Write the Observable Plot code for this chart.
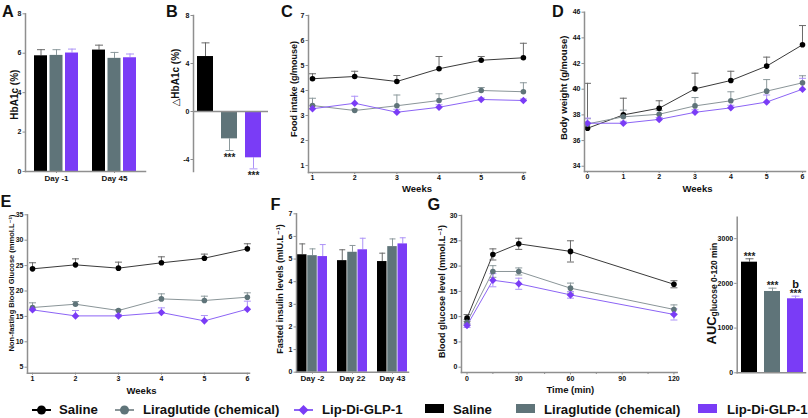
<!DOCTYPE html>
<html><head><meta charset="utf-8">
<script src="https://cdn.jsdelivr.net/npm/d3@7"></script>
<script src="https://cdn.jsdelivr.net/npm/@observablehq/plot@0.6"></script>
<style>
html,body{margin:0;padding:0;background:#fff;}
#fig{position:relative;width:808px;height:418px;overflow:hidden;background:#fff;font-family:"Liberation Sans",Arial,"DejaVu Sans",sans-serif;font-weight:bold;color:#111;}
.lbl{position:absolute;font-size:16.3px;line-height:16.3px;}
.leg{position:absolute;font-size:13.2px;line-height:13.2px;white-space:nowrap;}
.sym{position:absolute;}
</style></head><body><div id="fig"></div>
<script>
// ---------- data ----------
const series = ["Saline", "Liraglutide (chemical)", "Lip-Di-GLP-1"];
const colors = ["#000000", "#5f7479", "#7a3cf6"];
const lineColors = ["#3a3a3a", "#8a9598", "#8c64f5"];
const errColors = ["#6a6a6a", "#8c999c", "#ad93f7"];

// A: HbA1c
const hbaDays = ["Day -1", "Day 45"];
const hbaSaline = [5.87, 6.16], hbaSalineErr = [0.31, 0.25];
const hbaLira = [5.89, 5.74], hbaLiraErr = [0.29, 0.30];
const hbaLip = [6.01, 5.77], hbaLipErr = [0.20, 0.19];
const hbaTicks = [0, 2, 4, 6, 8];

// B: delta HbA1c
const dHba = [4.58, -2.28, -3.86];
const dHbaErr = [1.14, 0.97, 0.92];
const dHbaMarks = ["", "***", "***"];
const dHbaTicks = [-4, 0, 4, 8];

// C: food intake
const weeksC = [1, 2, 3, 4, 5, 6];
const foodSaline = [4.47, 4.56, 4.36, 4.87, 5.21, 5.31], foodSalineErr = [0.20, 0.21, 0.24, 0.49, 0.15, 0.58];
const foodLira = [3.40, 3.20, 3.39, 3.60, 4.00, 3.95], foodLiraErr = [0.29, 0.05, 0.43, 0.27, 0.12, 0.36];
const foodLip = [3.27, 3.49, 3.13, 3.33, 3.64, 3.60], foodLipErr = [0.12, 0.28, 0.12, 0.10, 0.06, 0.06];
const foodTicks = [1, 2, 3, 4, 5, 6, 7];

// D: body weight
const weeksD = [0, 1, 2, 3, 4, 5, 6];
const bwSaline = [36.96, 38.0, 38.52, 40.03, 40.68, 41.8, 43.46], bwSalineErr = [3.5, 1.3, 0.58, 1.22, 0.72, 0.7, 1.5];
const bwLira = [37.3, 37.85, 38.05, 38.7, 39.1, 39.85, 40.5], bwLiraErr = [0.4, 0.52, 0.3, 0.65, 0.7, 0.9, 0.55];
const bwLip = [37.35, 37.35, 37.65, 38.2, 38.55, 39.0, 40.0], bwLipErr = [0.4, 0.15, 0.15, 0.2, 0.2, 0.55, 0.85];
const bwTicks = [34, 36, 38, 40, 42, 44, 46];

// E: non-fasting blood glucose
const weeksE = [1, 2, 3, 4, 5, 6];
const glucSaline = [24.36, 25.15, 24.5, 25.55, 26.46, 28.3], glucSalineErr = [1.2, 1.18, 1.18, 1.18, 0.8, 1.0];
const glucLira = [16.75, 17.4, 16.16, 18.45, 18.13, 18.78], glucLiraErr = [0.92, 0.53, 0.2, 0.99, 0.85, 0.86];
const glucLip = [16.29, 15.1, 15.1, 15.76, 14.12, 16.42], glucLipErr = [0.3, 1.06, 0.3, 0.92, 1.05, 1.58];
const glucTicks = [5, 10, 15, 20, 25, 30, 35];

// F: fasted insulin
const insDays = ["Day -2", "Day 22", "Day 43"];
const insSaline = [5.19, 4.93, 4.89], insSalineErr = [0.48, 0.48, 0.37];
const insLira = [5.15, 5.30, 5.55], insLiraErr = [0.30, 0.30, 0.34];
const insLip = [5.11, 5.41, 5.67], insLipErr = [0.53, 0.51, 0.27];
const insTicks = [0, 1, 2, 3, 4, 5, 6, 7];

// G: OGTT
const times = [0, 15, 30, 60, 120];
const ogttSaline = [9.7, 22.3, 24.4, 22.9, 16.4], ogttSalineErr = [0.7, 1.1, 1.1, 2.1, 0.7];
const ogttLira = [8.9, 18.93, 18.93, 15.63, 11.42], ogttLiraErr = [0.5, 1.15, 0.7, 1.0, 0.9];
const ogttLip = [8.25, 17.2, 16.5, 14.3, 10.43], ogttLipErr = [0.4, 1.3, 1.1, 0.65, 1.1];
const ogttTicks = [0, 5, 10, 15, 20, 25, 30];
const timeTicks = [0, 30, 60, 90, 120];
const timeMinor = [15, 45, 75, 105];

// AUC
const aucMean = [2474, 1819, 1655];
const aucErr = [76, 74, 59];
const aucStars = ["***", "***", "***"];
const aucLetters = ["", "", "b"];
const aucTicks = [0, 1000, 2000, 3000];

// ---------- helpers ----------
const fig = document.getElementById("fig");
const fontFam = '"Liberation Sans", Arial, "DejaVu Sans", sans-serif';
const axisGray = "#8f8f8f";
const capSymbol = {draw(ctx, size) { const w = Math.sqrt(size / Math.PI); ctx.moveTo(-w, 0); ctx.lineTo(w, 0); }};
const fmt = d => String(d);

function base(w, h, m) {
  return {width: w, height: h, marginLeft: m[0], marginTop: m[1], marginRight: m[2], marginBottom: m[3],
    style: {fontFamily: fontFam, fontWeight: "bold", background: "none", overflow: "visible", color: "#111", fontSize: "7px"}};
}
function put(svg, left, top) {
  svg.style.position = "absolute"; svg.style.left = left + "px"; svg.style.top = top + "px";
  svg.style.maxWidth = "none";
  fig.appendChild(svg);
}
function seriesRows(keys, vals, errs) {
  return vals.map((v, si) => keys.map((k, j) => ({k, si, v: v[j], e: errs[si][j]})));
}
function axes(yTicks, yOpts = {}) {
  return [
    Plot.axisY({ticks: yTicks, tickSize: 2.5, tickPadding: 1.5, fontSize: 7, stroke: axisGray, label: null, tickFormat: fmt, ...yOpts}),
    Plot.frame({anchor: "left", stroke: axisGray, strokeWidth: 1.5})
  ];
}
function groupedBarMarks(rows, band, bw, capR) {
  const off = (band - bw) / 2;
  const m = [];
  rows.forEach((r, i) => {
    const dx = (i - 1) * off;
    m.push(Plot.ruleX(r, {x: "k", y1: "v", y2: d => d.v + d.e, stroke: errColors[i], strokeWidth: 1, dx}));
    m.push(Plot.dot(r, {x: "k", y: d => d.v + d.e, symbol: capSymbol, r: capR, stroke: errColors[i], strokeWidth: 1, dx}));
    m.push(Plot.barY(r, {x: "k", y: "v", fill: colors[i], insetLeft: i * off, insetRight: band - bw - i * off}));
  });
  return m;
}
function lineMarks(keys, vals, errs, both) {
  const rows = seriesRows(keys, vals, errs);
  const m = [];
  rows.forEach((r, i) => {
    m.push(Plot.ruleX(r, {x: "k", y1: d => both ? d.v - d.e : d.v, y2: d => d.v + d.e, stroke: errColors[i], strokeWidth: 1}));
    m.push(Plot.dot(r, {x: "k", y: d => d.v + d.e, symbol: capSymbol, r: 3.5, stroke: errColors[i], strokeWidth: 1}));
    if (both) m.push(Plot.dot(r, {x: "k", y: d => d.v - d.e, symbol: capSymbol, r: 3.5, stroke: errColors[i], strokeWidth: 1}));
  });
  rows.forEach((r, i) => m.push(Plot.line(r, {x: "k", y: "v", stroke: lineColors[i], strokeWidth: 1})));
  rows.forEach((r, i) => m.push(Plot.dot(r, {x: "k", y: "v", symbol: i === 2 ? "diamond2" : "circle", r: i === 2 ? 3.4 : 2.8, fill: colors[i], stroke: "none"})));
  return m;
}
function yTitle(t, dx, dy, fs) {
  return Plot.text([t], {text: d => d, frameAnchor: "left", textAnchor: "middle", lineAnchor: "middle", rotate: -90, dx, dy, fontSize: fs});
}
function xTitle(t, dx, dy, fs) {
  return Plot.text([t], {text: d => d, frameAnchor: "bottom", textAnchor: "middle", lineAnchor: "middle", dx, dy, fontSize: fs});
}

// ---------- A ----------
put(Plot.plot({
  ...base(150, 195, [25, 13.3, 5, 24]),
  x: {domain: hbaDays, paddingInner: 0.2373, paddingOuter: 0.1356},
  y: {domain: [0, 8]},
  marks: [
    ...groupedBarMarks(seriesRows(hbaDays, [hbaSaline, hbaLira, hbaLip], [hbaSalineErr, hbaLiraErr, hbaLipErr]), 45, 14, 4),
    ...axes(hbaTicks),
    Plot.frame({anchor: "bottom", stroke: axisGray, strokeWidth: 1.5}),
    Plot.axisX({tickSize: 2, tickPadding: 1.5, fontSize: 8, stroke: axisGray, label: null}),
    yTitle("HbA1c (%)", -11, 2, 10)
  ]
}), 0, 0);

// ---------- B ----------
const bRows = series.map((s, i) => ({k: s, si: i, v: dHba[i], e: dHbaErr[i], m: dHbaMarks[i]}));
put(Plot.plot({
  ...base(122, 195, [43, 15, 4, 24]),
  x: {domain: series, paddingInner: 1 / 3, paddingOuter: 0.229, align: 0.36, axis: null},
  y: {domain: [-5, 8]},
  marks: [
    ...bRows.map((d, i) => Plot.ruleX([d], {x: "k", y1: "v", y2: r => r.v + Math.sign(r.v) * r.e, stroke: errColors[i], strokeWidth: 1})),
    ...bRows.map((d, i) => Plot.dot([d], {x: "k", y: r => r.v + Math.sign(r.v) * r.e, symbol: capSymbol, r: 4, stroke: errColors[i], strokeWidth: 1})),
    ...bRows.map((d, i) => Plot.barY([d], {x: "k", y: "v", fill: colors[i]})),
    Plot.ruleY([0], {stroke: axisGray, strokeWidth: 1.5}),
    ...axes(dHbaTicks),
    Plot.text(bRows.filter(d => d.m), {x: "k", y: d => d.v - d.e, text: "m", dy: 7, fontSize: 10, fill: "#222"}),
    yTitle("\u25B3HbA1c (%)", -18, -16, 10)
  ]
}), 150, 0);

// ---------- C ----------
put(Plot.plot({
  ...base(280, 195, [53, 15, 10, 23]),
  x: {domain: [0.905, 6.05]},
  y: {domain: [0.72, 7]},
  marks: [
    ...lineMarks(weeksC, [foodSaline, foodLira, foodLip], [foodSalineErr, foodLiraErr, foodLipErr], false),
    ...axes(foodTicks),
    Plot.frame({anchor: "bottom", stroke: axisGray, strokeWidth: 1.5}),
    Plot.axisX({ticks: weeksC, tickSize: 2, tickPadding: 1, fontSize: 7, stroke: axisGray, label: null, tickFormat: fmt}),
    yTitle("Food intake (g/mouse)", -14.5, -5, 9),
    xTitle("Weeks", 0, 16.5, 9.5)
  ]
}), 255, 0);

// ---------- D ----------
put(Plot.plot({
  ...base(278, 195, [54, 11.7, 3, 24]),
  x: {domain: [-0.084, 6.084]},
  y: {domain: [33.59, 46]},
  marks: [
    ...lineMarks(weeksD, [bwSaline, bwLira, bwLip], [bwSalineErr, bwLiraErr, bwLipErr], false),
    ...axes(bwTicks),
    Plot.frame({anchor: "bottom", stroke: axisGray, strokeWidth: 1.5}),
    Plot.axisX({ticks: weeksD, tickSize: 2, tickPadding: 1, fontSize: 7, stroke: axisGray, label: null, tickFormat: fmt}),
    yTitle("Body weight (g/mouse)", -21, -4, 9.5),
    xTitle("Weeks", 2.5, 17, 9.5)
  ]
}), 530, 0);

// ---------- E ----------
put(Plot.plot({
  ...base(260, 210, [27, 24.3, 11, 27.3]),
  x: {domain: [0.883, 6.05]},
  y: {domain: [3.82, 35]},
  marks: [
    ...lineMarks(weeksE, [glucSaline, glucLira, glucLip], [glucSalineErr, glucLiraErr, glucLipErr], false),
    ...axes(glucTicks),
    Plot.frame({anchor: "bottom", stroke: axisGray, strokeWidth: 1.5}),
    Plot.axisX({ticks: weeksE, tickSize: 2, tickPadding: 1, fontSize: 7, stroke: axisGray, label: null, tickFormat: fmt}),
    yTitle("Non-fasting Blood Glucose (mmol.L\u207B\u00B9)", -15.5, -11, 7.5),
    xTitle("Weeks", 3, 17.5, 9.5)
  ]
}), 0, 190);

// ---------- F ----------
put(Plot.plot({
  ...base(150, 210, [31, 23.3, 7, 28.3]),
  x: {domain: insDays, paddingInner: 0.25, paddingOuter: 0.025},
  y: {domain: [0, 7]},
  marks: [
    ...groupedBarMarks(seriesRows(insDays, [insSaline, insLira, insLip], [insSalineErr, insLiraErr, insLipErr]), 30, 9.5, 3),
    ...axes(insTicks),
    Plot.frame({anchor: "bottom", stroke: axisGray, strokeWidth: 1.5}),
    Plot.axisX({tickSize: 2, tickPadding: 1.5, fontSize: 8, stroke: axisGray, label: null}),
    yTitle("Fasted insulin levels (mIU.L\u207B\u00B9)", -16, -4, 9)
  ]
}), 265, 190);

// ---------- G ----------
put(Plot.plot({
  ...base(260, 210, [41, 25, 3.3, 28]),
  x: {domain: [-3.2, 121.9]},
  y: {domain: [-1.05, 30]},
  marks: [
    ...lineMarks(times, [ogttSaline, ogttLira, ogttLip], [ogttSalineErr, ogttLiraErr, ogttLipErr], true),
    ...axes(ogttTicks),
    Plot.frame({anchor: "bottom", stroke: axisGray, strokeWidth: 1.5}),
    Plot.axisX({ticks: timeTicks, tickSize: 2.5, tickPadding: 1, fontSize: 7, stroke: axisGray, label: null, tickFormat: fmt}),
    Plot.axisX({ticks: timeMinor, tickSize: 2, fontSize: 7, stroke: axisGray, label: null, tickFormat: () => ""}),
    yTitle("Blood glucose level (mmol.L\u207B\u00B9)", -19, -2.5, 9),
    xTitle("Time (min)", 1, 17, 9.5)
  ]
}), 420, 190);

// ---------- AUC ----------
const aucRows = series.map((s, i) => ({k: s, si: i, v: aucMean[i], e: aucErr[i], star: aucStars[i], letter: aucLetters[i]}));
put(Plot.plot({
  ...base(118, 210, [46.7, 26.7, 3, 27.7]),
  x: {domain: series, paddingInner: 0.32, paddingOuter: 0.113, align: 0.62, axis: null},
  y: {domain: [0, 3480]},
  marks: [
    ...aucRows.map((d, i) => Plot.ruleX([d], {x: "k", y1: "v", y2: r => r.v + r.e, stroke: errColors[i], strokeWidth: 1})),
    ...aucRows.map((d, i) => Plot.dot([d], {x: "k", y: r => r.v + r.e, symbol: capSymbol, r: 4, stroke: errColors[i], strokeWidth: 1})),
    ...aucRows.map((d, i) => Plot.barY([d], {x: "k", y: "v", fill: colors[i]})),
    ...axes(aucTicks),
    Plot.frame({anchor: "bottom", stroke: axisGray, strokeWidth: 1.5}),
    Plot.text(aucRows, {x: "k", y: d => d.v + d.e, text: "star", dy: -2, fontSize: 10, fill: "#222"}),
    Plot.text(aucRows.filter(d => d.letter), {x: "k", y: d => d.v + d.e, text: "letter", dy: -12, fontSize: 11, fill: "#111"}),
    Plot.text(["AUC"], {text: d => d, frameAnchor: "bottom-left", rotate: -90, textAnchor: "start", lineAnchor: "middle", dx: -25.7, dy: -28.3, fontSize: 13}),
    Plot.text(["glucose 0-120 min"], {text: d => d, frameAnchor: "bottom-left", rotate: -90, textAnchor: "start", lineAnchor: "middle", dx: -22.5, dy: -56.3, fontSize: 8.5})
  ]
}), 690, 190);

// ---------- panel letters ----------
[["A", 2, 2.9], ["B", 166, 2.9], ["C", 281, 2.9], ["D", 552, 2.9], ["E", 0.5, 193], ["F", 270.5, 196.2], ["G", 427.6, 196.3]]
  .forEach(([t, x, y]) => {
    const d = document.createElement("div"); d.className = "lbl"; d.textContent = t;
    d.style.left = x + "px"; d.style.top = y + "px"; fig.appendChild(d);
  });

// ---------- legends ----------
function legText(t, x) {
  const d = document.createElement("div"); d.className = "leg"; d.textContent = t;
  d.style.left = x + "px"; d.style.top = "402.8px"; fig.appendChild(d);
}
const lineLegX = [[31, 59], [114, 143], [293, 322]];
series.forEach((s, i) => {
  const [sx, tx] = lineLegX[i];
  const svgNS = "http://www.w3.org/2000/svg";
  const sv = document.createElementNS(svgNS, "svg");
  sv.setAttribute("width", 22); sv.setAttribute("height", 14); sv.setAttribute("class", "sym");
  sv.style.left = sx + "px"; sv.style.top = "403px";
  const ln = document.createElementNS(svgNS, "line");
  ln.setAttribute("x1", 1); ln.setAttribute("x2", 20); ln.setAttribute("y1", 7); ln.setAttribute("y2", 7);
  ln.setAttribute("stroke", i === 0 ? "#000" : lineColors[i]); ln.setAttribute("stroke-width", 2);
  sv.appendChild(ln);
  let mk;
  if (i === 2) {
    mk = document.createElementNS(svgNS, "path");
    mk.setAttribute("d", "M10.5,2 L15.5,7 L10.5,12 L5.5,7 Z");
  } else {
    mk = document.createElementNS(svgNS, "circle");
    mk.setAttribute("cx", 10.5); mk.setAttribute("cy", 7); mk.setAttribute("r", 4.5);
  }
  mk.setAttribute("fill", colors[i]);
  sv.appendChild(mk);
  fig.appendChild(sv);
  legText(s, tx);
});
const boxLegX = [[425, 453], [516, 544], [698, 727]];
series.forEach((s, i) => {
  const [sx, tx] = boxLegX[i];
  const b = document.createElement("div");
  b.style.cssText = `position:absolute;left:${sx}px;top:404px;width:19px;height:9px;background:${colors[i]};`;
  fig.appendChild(b);
  legText(s, tx);
});
</script>
</body></html>
